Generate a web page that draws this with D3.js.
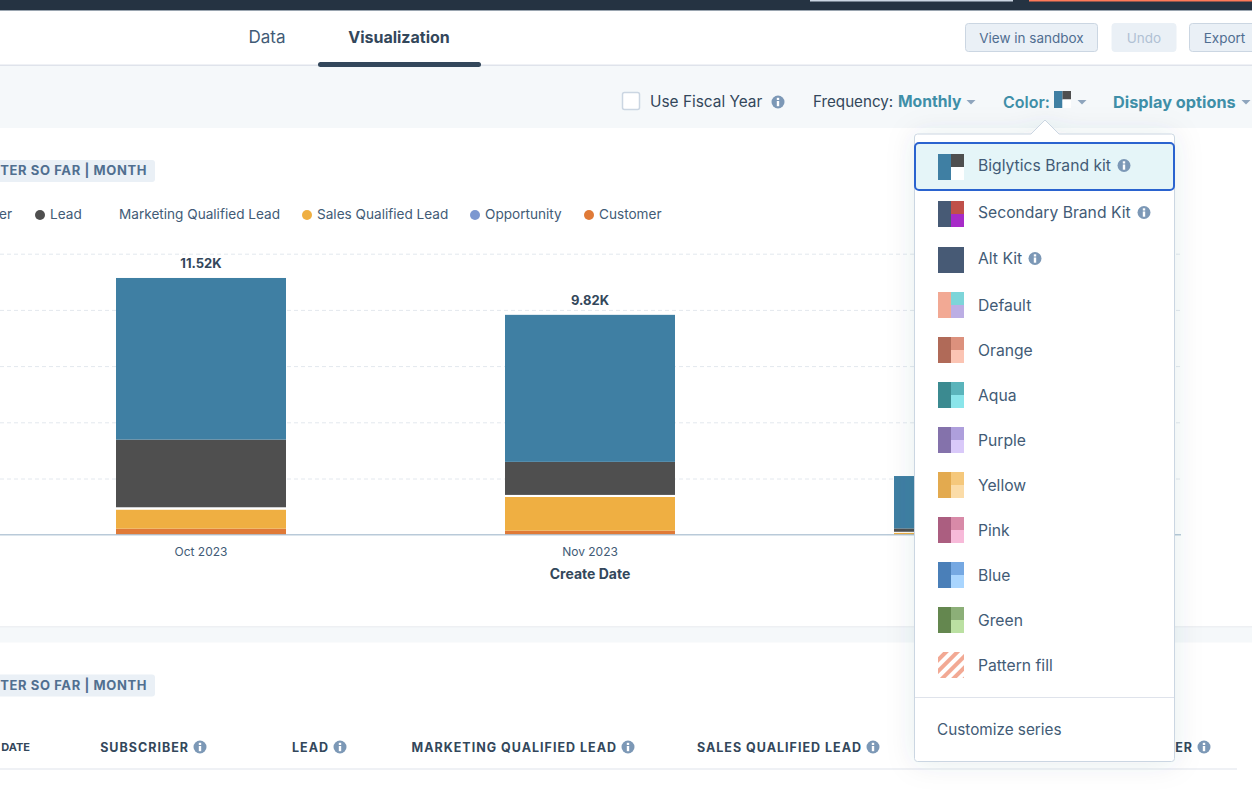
<!DOCTYPE html>
<html>
<head>
<meta charset="utf-8">
<script src="https://cdn.jsdelivr.net/npm/d3@7"></script>
<style>
body { margin: 0; background: #fff; overflow: hidden; }
svg { display: block; }
text { font-family: Inter, "Noto Sans", sans-serif; fill: #33475b; }
</style>
</head>
<body>
<svg id="page"></svg>
<script>
// chart data
var categories = ["Oct 2023", "Nov 2023", "Dec 2023"];
var visibleTicks = ["Oct 2023", "Nov 2023"];
var subscriberValues = [7190, 6540, 2330];
var leadValues = [3010, 1470, 150];
var mqlValues = [100, 90, 40];
var sqlValues = [850, 1500, 90];
var opportunityValues = [0, 0, 0];
var customerValues = [270, 180, 0];
var totalLabels = ["11.52K", "9.82K"];
var gridTicks = [0, 2500, 5000, 7500, 10000, 12500];

var seriesKeys = ["subscriber", "lead", "mql", "sql", "opportunity", "customer"];
var seriesColors = ["#3f7fa3", "#4f4f4f", "#ffffff", "#efaf42", "#7c98d0", "#e07a37"];
var legendLabels = ["er", "Lead", "Marketing Qualified Lead", "Sales Qualified Lead", "Opportunity", "Customer"];

// color menu
var menuLabels = ["Biglytics Brand kit", "Secondary Brand Kit", "Alt Kit", "Default", "Orange", "Aqua", "Purple", "Yellow", "Pink", "Blue", "Green", "Pattern fill"];
var menuColors = [
    ["#3f7fa3", "#4f4f4f", "#ffffff"],
    ["#475a75", "#c0504a", "#a72bc8"],
    ["#475a75", "#475a75", "#475a75"],
    ["#f2a994", "#7dd5d9", "#bcaee4"],
    ["#b06a58", "#dc917d", "#fbc4b3"],
    ["#3b8a90", "#5ab4bb", "#8ae5ea"],
    ["#8472ab", "#ae9fdc", "#d9c9f9"],
    ["#e3aa4f", "#f5c87c", "#fbdca8"],
    ["#ab5e80", "#d88aa8", "#f7bad9"],
    ["#4a7fb8", "#75a8e2", "#a9d5fe"],
    ["#64874f", "#8caf78", "#bbe0a2"],
    ["url(#stripes)", "url(#stripes)", "url(#stripes)"]
];
var menuRows = [165.5, 212.5, 258.5, 305, 350, 395, 440, 485, 530, 575, 620, 665];
var menuSwatchTops = [154, 201, 247, 292, 337, 382, 427, 472, 517, 562, 607, 652];
var menuInfoX = [1124, 1144, 1035];

// table header
var tableHeaders = ["DATE", "SUBSCRIBER", "LEAD", "MARKETING QUALIFIED LEAD", "SALES QUALIFIED LEAD", "ER"];
var tableEnds = [30, 189, 329, 617, 862, 1193];

var svgWidth = 1252;
var svgHeight = 790;
var teal = "#3f8fa8";
var iconBlue = "#7c98b6";

var svg = d3.select("#page")
    .attr("width", svgWidth)
    .attr("height", svgHeight);

var defs = svg.append("defs");
var stripes = defs.append("pattern")
    .attr("id", "stripes")
    .attr("width", 8)
    .attr("height", 8)
    .attr("patternUnits", "userSpaceOnUse")
    .attr("patternTransform", "rotate(45)");
stripes.append("rect").attr("width", 8).attr("height", 8).attr("fill", "#fff");
stripes.append("rect").attr("width", 4).attr("height", 8).attr("fill", "#f2a994");

var shadow = defs.append("filter")
    .attr("id", "menuShadow")
    .attr("x", "-20%").attr("y", "-10%")
    .attr("width", "140%").attr("height", "120%");
shadow.append("feDropShadow")
    .attr("dx", 0).attr("dy", 1)
    .attr("stdDeviation", 14)
    .attr("flood-color", "#33475b")
    .attr("flood-opacity", 0.1);

function rect(parent, x, y, w, h, fill) {
    return parent.append("rect")
        .attr("x", x).attr("y", y)
        .attr("width", w).attr("height", h)
        .attr("fill", fill);
}

function label(parent, x, y, str, size, weight, color, anchor) {
    return parent.append("text")
        .attr("x", x).attr("y", y)
        .attr("font-size", size)
        .attr("font-weight", weight || 400)
        .attr("text-anchor", anchor || "start")
        .attr("dominant-baseline", "central")
        .style("fill", color || "#33475b")
        .text(str);
}

function infoIcon(parent, x, y) {
    parent.append("circle").attr("cx", x).attr("cy", y).attr("r", 6.5).attr("fill", iconBlue);
    rect(parent, x - 1.2, y - 4.2, 2.4, 2.2, "#fff");
    rect(parent, x - 1.2, y - 1, 2.4, 5.2, "#fff");
}

function caret(parent, x, y) {
    parent.append("path")
        .attr("d", "M" + (x - 4.5) + "," + (y - 2) + "h9l-4.5,4.5z")
        .attr("fill", "#8fa5bd");
}

function swatch(parent, x, y, size, colors) {
    var half = size / 2;
    rect(parent, x, y, half, size, colors[0]);
    rect(parent, x + half, y, half, half, colors[1]);
    rect(parent, x + half, y + half, half, half, colors[2]);
}

// page chrome
rect(svg, 0, 0, svgWidth, svgHeight, "#fff");
rect(svg, 0, 0, svgWidth, 10, "#253342");
rect(svg, 0, 10, svgWidth, 1, "#9aa5b0");
rect(svg, 810, 0, 203, 1.5, "#cbd6e2");
rect(svg, 1029, 0, 223, 1.5, "#ff7a59");

rect(svg, 0, 66, svgWidth, 62, "#f5f8fa");
rect(svg, 0, 64.5, svgWidth, 1.5, "#dfe3eb");
label(svg, 267, 37, "Data", 17, 400, "#425b76", "middle");
label(svg, 399, 37, "Visualization", 16, 700, "#33475b", "middle");
rect(svg, 318, 62, 163, 5, "#33475b").attr("rx", 2.5);

function button(x, w, str, fill, stroke, color) {
    rect(svg, x, 23.5, w, 28, fill).attr("rx", 3).attr("stroke", stroke);
    label(svg, x + w / 2, 37.5, str, 13.5, 400, color, "middle");
}
button(965.5, 132, "View in sandbox", "#eaf0f6", "#cbd6e2", "#506e91");
button(1112, 64, "Undo", "#eaf0f6", "#eaf0f6", "#b0c1d4");
button(1189.5, 70, "Export", "#eaf0f6", "#cbd6e2", "#506e91");

// toolbar
rect(svg, 622.5, 92.5, 17, 17, "#fff").attr("rx", 2).attr("stroke", "#cbd6e2").attr("stroke-width", 1.5);
label(svg, 650, 101.5, "Use Fiscal Year", 15.4, 400, "#33475b");
infoIcon(svg, 778, 102);
label(svg, 813, 101.5, "Frequency:", 15.2, 400, "#33475b");
label(svg, 898, 101.5, "Monthly", 15.7, 700, teal);
caret(svg, 971, 102);
label(svg, 1003, 101.5, "Color:", 16, 600, teal);
swatch(svg, 1054, 91, 17, menuColors[0]);
caret(svg, 1082, 102);
label(svg, 1113, 101.5, "Display options", 16.3, 700, teal);
caret(svg, 1246, 102);

// lower panel, gray band and table header
rect(svg, 0, 626, svgWidth, 16.5, "#f5f8fa");
rect(svg, 0, 626, svgWidth, 1.5, "#eef0f3");

function pill(y) {
    rect(svg, -6, y, 161, 22, "#eaf0f6").attr("rx", 3);
    label(svg, 147, y + 10, "TER SO FAR | MONTH", 13, 700, "#516f90", "end")
        .style("letter-spacing", "0.6px");
}
pill(160);
pill(674.5);

var headerGroup = svg.append("g");
tableHeaders.forEach(function(d, i) {
    // DATE is shrunk a little so that it stays on the page
    label(headerGroup, tableEnds[i], 747, d, i == 0 ? 11 : 12.5, 700, "#33475b", "end")
        .style("letter-spacing", i == 0 ? "0" : "1px");
    // the DATE column has no info icon
    if (i > 0) infoIcon(headerGroup, tableEnds[i] + 11, 747);
});
rect(svg, 0, 768.5, 1237, 1, "#dfe3eb");

// chart
var xScale = d3.scaleBand()
    .domain(categories)
    .range([6.5, 1173.5])
    .paddingInner(0.563)
    .paddingOuter(0.2815);

var yScale = d3.scaleLinear()
    .domain([0, 12500])
    .range([534.7, 253.7]);

var yAxis = d3.axisLeft(yScale)
    .tickValues(gridTicks.slice(1))
    .tickSize(-1180)
    .tickFormat("");

var gridG = svg.append("g")
    .call(yAxis);
gridG.select(".domain").remove();
gridG.selectAll("line")
    .attr("stroke", "#e3e8ee")
    .attr("stroke-dasharray", "4,3");

var rows = categories.map(function(c, i) {
    return {
        category: c,
        subscriber: subscriberValues[i],
        lead: leadValues[i],
        mql: mqlValues[i],
        sql: sqlValues[i],
        opportunity: opportunityValues[i],
        customer: customerValues[i]
    };
});

// customer sits at the bottom of the stack, subscriber on top
var stacked = d3.stack().keys(seriesKeys.slice().reverse())(rows);

var colorScale = d3.scaleOrdinal()
    .domain(seriesKeys)
    .range(seriesColors);

svg.append("g")
    .selectAll("g")
    .data(stacked)
    .enter()
    .append("g")
    .attr("fill", function(d) { return colorScale(d.key); })
    .selectAll("rect")
    .data(function(d) { return d; })
    .enter()
    .append("rect")
    .attr("x", function(d) { return xScale(d.data.category); })
    .attr("width", xScale.bandwidth())
    .attr("y", function(d) { return yScale(d[1]); })
    .attr("height", function(d) { return yScale(d[0]) - yScale(d[1]); });

var xAxis = d3.axisBottom(xScale)
    .tickValues(visibleTicks)
    .tickSize(0)
    .tickPadding(11);

var xAxisG = svg.append("g")
    .attr("transform", "translate(0," + yScale(0) + ")")
    .call(xAxis);
xAxisG.select(".domain").remove();
xAxisG.selectAll("text")
    .attr("y", 12.5)
    .attr("font-size", 12)
    .style("font-family", "Inter, sans-serif")
    .style("fill", "#425b76");

rect(svg, 0, yScale(0) - 0.5, 1181, 1.2, "#a9bdd0");
label(svg, xScale("Nov 2023") + xScale.bandwidth() / 2, 573.5, "Create Date", 14, 700, "#33475b", "middle");

svg.append("g")
    .selectAll("text")
    .data(totalLabels)
    .enter()
    .append("text")
    .attr("x", function(d, i) { return xScale(categories[i]) + xScale.bandwidth() / 2; })
    .attr("y", function(d, i) { return yScale(d3.sum(seriesKeys, function(k) { return rows[i][k]; })) - 14.5; })
    .attr("text-anchor", "middle")
    .attr("dominant-baseline", "central")
    .attr("font-size", 13)
    .attr("font-weight", 700)
    .text(function(d) { return d; });

// legend: the first item runs off the left edge of the page
var legendG = svg.append("g");
var legendX = [12, 40, 109, 307, 475, 589];
legendLabels.forEach(function(d, i) {
    if (i == 0) {
        label(legendG, legendX[i], 213.5, d, 13.6, 400, "#425b76", "end");
        return;
    }
    legendG.append("circle")
        .attr("cx", legendX[i])
        .attr("cy", 215)
        .attr("r", 5)
        .attr("fill", seriesColors[i]);
    label(legendG, legendX[i] + 10, 213.5, d, 13.6, 400, "#425b76");
});

// color dropdown
var menu = svg.append("g");
menu.append("path")
    .attr("d", "M914.5,137a3,3 0 0 1 3,-3H1031L1045,120L1059,134H1171.5a3,3 0 0 1 3,3V758.5a3,3 0 0 1 -3,3H917.5a3,3 0 0 1 -3,-3Z")
    .attr("fill", "#fff")
    .attr("stroke", "#cbd6e2")
    .attr("filter", "url(#menuShadow)");

rect(menu, 915, 143, 259, 47, "#e5f5f8")
    .attr("rx", 4)
    .attr("stroke", "#2a63cf")
    .attr("stroke-width", 2);

menuLabels.forEach(function(d, i) {
    var y = menuRows[i];
    swatch(menu, 938, menuSwatchTops[i], 26, menuColors[i]);
    label(menu, 978, y, d, 15.7, 400, "#425b76");
    if (i < menuInfoX.length) infoIcon(menu, menuInfoX[i], y);
});

rect(menu, 915, 697, 259, 1, "#dfe3eb");
label(menu, 937, 729.5, "Customize series", 15.3, 400, "#425b76");
</script>
</body>
</html>
